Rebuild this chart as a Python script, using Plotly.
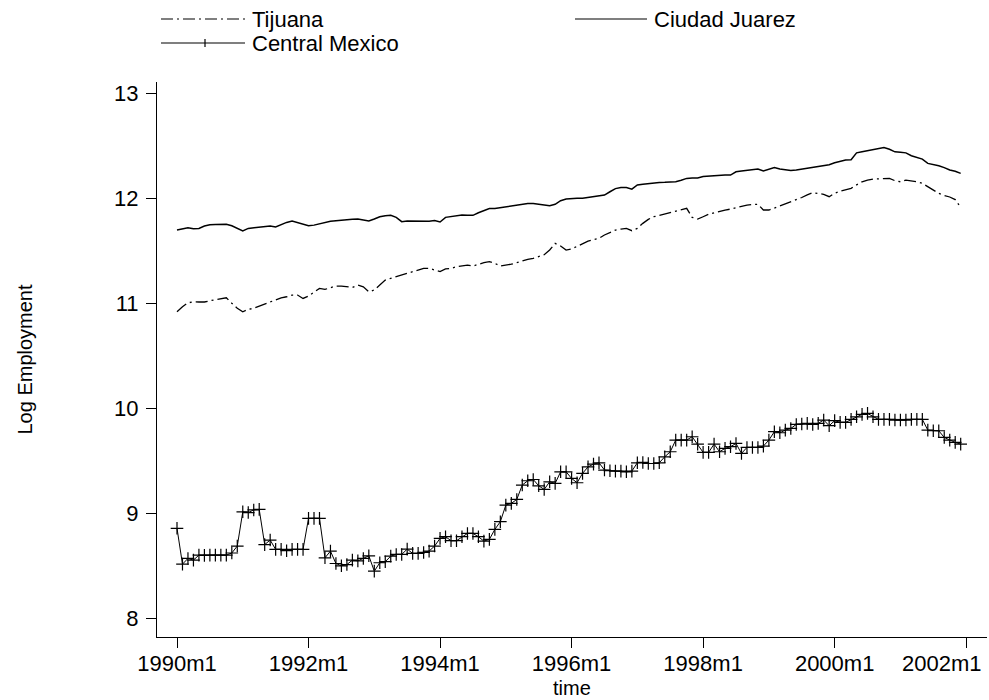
import plotly.graph_objects as go

# month index 0 = 1990m1 ... 143 = 2001m12
months = list(range(144))

tijuana = [
    10.917, 10.965, 11.002, 11.012, 11.010, 11.010, 11.022, 11.030, 11.044, 11.050, 10.998, 10.950,
    10.917, 10.940, 10.950, 10.970, 10.990, 11.010, 11.035, 11.050, 11.060, 11.076, 11.076, 11.044,
    11.067, 11.108, 11.140, 11.130, 11.149, 11.162, 11.162, 11.155, 11.149, 11.171, 11.155, 11.108,
    11.124, 11.171, 11.219, 11.235, 11.251, 11.265, 11.280, 11.292, 11.314, 11.330, 11.330, 11.314,
    11.300, 11.325, 11.330, 11.346, 11.355, 11.362, 11.352, 11.370, 11.385, 11.394, 11.378, 11.352,
    11.360, 11.370, 11.384, 11.403, 11.416, 11.425, 11.440, 11.460, 11.505, 11.568, 11.543, 11.505,
    11.515, 11.540, 11.560, 11.590, 11.605, 11.616, 11.648, 11.675, 11.695, 11.705, 11.711, 11.689,
    11.711, 11.759, 11.797, 11.822, 11.835, 11.850, 11.862, 11.876, 11.890, 11.902, 11.816, 11.800,
    11.822, 11.845, 11.860, 11.875, 11.885, 11.895, 11.910, 11.925, 11.933, 11.938, 11.940, 11.886,
    11.886, 11.905, 11.924, 11.945, 11.960, 11.981, 12.005, 12.030, 12.051, 12.044, 12.035, 12.013,
    12.045, 12.065, 12.082, 12.092, 12.125, 12.155, 12.170, 12.181, 12.182, 12.181, 12.187, 12.165,
    12.155, 12.170, 12.165, 12.155, 12.140, 12.110, 12.080, 12.044, 12.025, 12.010, 11.985, 11.911,
]

ciudad_juarez = [
    11.695, 11.708, 11.717, 11.708, 11.710, 11.733, 11.746, 11.749, 11.752, 11.750, 11.736, 11.714,
    11.686, 11.711, 11.717, 11.724, 11.727, 11.733, 11.724, 11.749, 11.768, 11.781, 11.765, 11.749,
    11.736, 11.742, 11.755, 11.765, 11.778, 11.784, 11.790, 11.790, 11.797, 11.800, 11.790, 11.781,
    11.800, 11.822, 11.832, 11.835, 11.816, 11.775, 11.781, 11.780, 11.780, 11.775, 11.780, 11.785,
    11.772, 11.816, 11.825, 11.832, 11.838, 11.836, 11.835, 11.860, 11.880, 11.900, 11.900, 11.908,
    11.917, 11.925, 11.933, 11.940, 11.949, 11.948, 11.943, 11.935, 11.927, 11.940, 11.975, 11.990,
    11.995, 11.997, 11.997, 12.005, 12.012, 12.020, 12.028, 12.060, 12.090, 12.101, 12.101, 12.085,
    12.124, 12.132, 12.140, 12.144, 12.149, 12.150, 12.152, 12.155, 12.170, 12.187, 12.192, 12.190,
    12.205, 12.210, 12.215, 12.219, 12.219, 12.219, 12.250, 12.257, 12.262, 12.270, 12.276, 12.257,
    12.275, 12.290, 12.276, 12.270, 12.262, 12.268, 12.276, 12.284, 12.292, 12.303, 12.314, 12.318,
    12.336, 12.350, 12.362, 12.365, 12.430, 12.440, 12.450, 12.458, 12.467, 12.480, 12.464, 12.440,
    12.437, 12.430, 12.403, 12.385, 12.371, 12.330, 12.320, 12.308, 12.290, 12.267, 12.255, 12.235,
]

central_mexico = [
    8.855, 8.514, 8.568, 8.552, 8.600, 8.597, 8.600, 8.600, 8.600, 8.600, 8.620, 8.686,
    9.012, 9.005, 9.030, 9.035, 8.700, 8.743, 8.654, 8.654, 8.642, 8.654, 8.654, 8.654,
    8.950, 8.950, 8.950, 8.574, 8.638, 8.520, 8.498, 8.510, 8.552, 8.545, 8.568, 8.593,
    8.447, 8.527, 8.537, 8.590, 8.606, 8.606, 8.657, 8.616, 8.616, 8.625, 8.638, 8.686,
    8.759, 8.775, 8.737, 8.737, 8.775, 8.806, 8.806, 8.775, 8.733, 8.750, 8.845, 8.918,
    9.076, 9.092, 9.130, 9.267, 9.308, 9.320, 9.260, 9.225, 9.298, 9.283, 9.393, 9.393,
    9.330, 9.289, 9.378, 9.440, 9.466, 9.479, 9.410, 9.403, 9.400, 9.400, 9.393, 9.400,
    9.479, 9.482, 9.472, 9.472, 9.479, 9.536, 9.584, 9.695, 9.695, 9.695, 9.727, 9.657,
    9.578, 9.578, 9.657, 9.584, 9.616, 9.632, 9.663, 9.568, 9.625, 9.625, 9.625, 9.638,
    9.695, 9.775, 9.765, 9.790, 9.806, 9.844, 9.848, 9.854, 9.844, 9.854, 9.886, 9.832,
    9.880, 9.864, 9.864, 9.892, 9.917, 9.940, 9.949, 9.917, 9.892, 9.892, 9.892, 9.886,
    9.886, 9.886, 9.892, 9.892, 9.892, 9.790, 9.784, 9.784, 9.720, 9.695, 9.673, 9.657,
]

x_tick_vals = [0, 24, 48, 72, 96, 120, 144]
x_tick_text = ["1990m1", "1992m1", "1994m1", "1996m1", "1998m1", "2000m1", "2002m1"]
y_tick_vals = [8, 9, 10, 11, 12, 13]

FONT = "Liberation Sans, Arial, sans-serif"
W, H = 989, 700
L, R, T, B = 157, 2, 82, 63
PW, PH = W - L - R, H - T - B


def px(xp):
    return (xp - L) / PW


def py(yp):
    return 1 - (yp - T) / PH


fig = go.Figure()
fig.add_trace(go.Scatter(
    x=months, y=tijuana, mode="lines", name="Tijuana",
    line=dict(color="black", width=1.3, dash="12px,4px,2px,4px"),
))
fig.add_trace(go.Scatter(
    x=months, y=ciudad_juarez, mode="lines", name="Ciudad Juarez",
    line=dict(color="black", width=1.5),
))
fig.add_trace(go.Scatter(
    x=months, y=central_mexico, mode="lines+markers", name="Central Mexico",
    line=dict(color="black", width=1),
    marker=dict(symbol="cross-thin", size=9, line=dict(color="black", width=1.2)),
))

# legend (drawn manually)
shapes = [
    dict(type="line", xref="paper", yref="paper", x0=px(161), x1=px(245), y0=py(19), y1=py(19),
         line=dict(color="black", width=1.2, dash="12px,4px,2px,4px")),
    dict(type="line", xref="paper", yref="paper", x0=px(575), x1=px(647), y0=py(19), y1=py(19),
         line=dict(color="black", width=1.2)),
    dict(type="line", xref="paper", yref="paper", x0=px(161), x1=px(245), y0=py(43), y1=py(43),
         line=dict(color="black", width=1.2)),
    dict(type="line", xref="paper", yref="paper", x0=px(205), x1=px(205), y0=py(39), y1=py(47),
         line=dict(color="black", width=1.2)),
]
legend_font = dict(size=22, color="black", family=FONT)
annotations = [
    dict(text="Tijuana", xref="paper", yref="paper", x=px(250), y=py(19), xanchor="left",
         yanchor="middle", showarrow=False, font=legend_font),
    dict(text="Ciudad Juarez", xref="paper", yref="paper", x=px(652), y=py(19), xanchor="left",
         yanchor="middle", showarrow=False, font=legend_font),
    dict(text="Central Mexico", xref="paper", yref="paper", x=px(250), y=py(43), xanchor="left",
         yanchor="middle", showarrow=False, font=legend_font),
    # last tick label, shifted left so it stays inside the page (as in the reference)
    dict(text=x_tick_text[-1], xref="x", yref="paper", x=x_tick_vals[-1], xshift=-24,
         y=py(649), xanchor="center", yanchor="top", showarrow=False, font=legend_font),
    # x-axis title
    dict(text="time", xref="paper", yref="paper", x=0.5, y=py(701), xanchor="center",
         yanchor="bottom", showarrow=False, font=dict(size=20, color="black", family=FONT)),
]

fig.update_layout(
    width=W, height=H,
    margin=dict(l=L, r=R, t=T, b=B, pad=0),
    paper_bgcolor="white", plot_bgcolor="white",
    showlegend=False,
    font=dict(family=FONT, size=22, color="black"),
    shapes=shapes, annotations=annotations,
    xaxis=dict(
        range=[-3.65, 147.8], tickvals=x_tick_vals,
        ticktext=x_tick_text[:-1] + [""],
        showgrid=False, zeroline=False, showline=True, linecolor="black", linewidth=1.2,
        ticks="outside", ticklen=10, tickcolor="black", tickwidth=1,
        tickfont=dict(size=22, family=FONT), ticklabelstandoff=-4,
    ),
    yaxis=dict(
        range=[7.82, 13.105], tickvals=y_tick_vals,
        showgrid=False, zeroline=False, showline=True, linecolor="black", linewidth=1.2,
        ticks="outside", ticklen=10, tickcolor="black", tickwidth=1,
        tickfont=dict(size=22, family=FONT), ticklabelstandoff=3,
        title=dict(text="Log Employment", font=dict(size=20, family=FONT), standoff=76),
    ),
)

fig.write_html("out.html")
